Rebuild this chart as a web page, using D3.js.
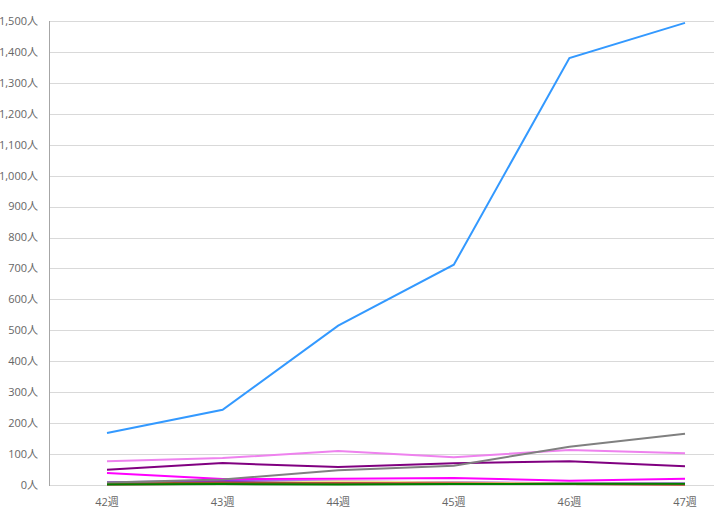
<!DOCTYPE html>
<html>
<head>
<meta charset="utf-8">
<script src="https://cdn.jsdelivr.net/npm/d3@7"></script>
<style>
  body { margin: 0; background: #fff; }
  text { font-family: "Open Sans", "Noto Sans CJK JP", sans-serif; font-size: 11px; fill: #666; }
</style>
</head>
<body>
<div id="chart"></div>
<script>
// weeks on the x axis
var weeks = ["42週", "43週", "44週", "45週", "46週", "47週"];
var yTicks = d3.range(0, 1501, 100);

// one array per line
var blueVals = [168, 243, 515, 712, 1380, 1494];
var grayVals = [8, 18, 48, 62, 124, 166];
var violetVals = [77, 87, 110, 90, 113, 103];
var purpleVals = [49, 71, 58, 70, 77, 61];
var magentaVals = [39, 19, 20, 23, 14, 20];
var blueVioletVals = [9, 13, 11, 9, 6, 5];
var khakiVals = [3, 6, 11, 8, 5, 3];
var crimsonVals = [2, 4, 6, 5, 3, 2];
var sienaVals = [4, 8, 5, 4, 3, 2];
var greenVals = [2, 3, 2, 3, 4, 4];

var series = [
  { color: "#3399ff", values: blueVals },
  { color: "#808080", values: grayVals },
  { color: "#ee82ee", values: violetVals },
  { color: "#800080", values: purpleVals },
  { color: "#ff00ff", values: magentaVals },
  { color: "#8a2be2", values: blueVioletVals },
  { color: "#f0e68c", values: khakiVals },
  { color: "#dc143c", values: crimsonVals },
  { color: "#a0522d", values: sienaVals },
  { color: "#008000", values: greenVals },
];

var svgWidth = 714;
var svgHeight = 526;

var svg = d3
  .select("#chart")
  .append("svg")
  .attr("width", svgWidth)
  .attr("height", svgHeight);

var xScale = d3.scalePoint().domain(weeks).range([107, 685]);
var yScale = d3.scaleLinear().domain([0, 1500]).range([485, 21]);

// gridlines
svg
  .append("g")
  .selectAll("line")
  .data(yTicks)
  .enter()
  .append("line")
  .attr("x1", 49)
  .attr("x2", svgWidth)
  .attr("y1", (d) => Math.round(yScale(d)) + 0.5)
  .attr("y2", (d) => Math.round(yScale(d)) + 0.5)
  .attr("stroke", "#d9d9d9")
  .attr("stroke-width", 1);

// y axis line
svg
  .append("line")
  .attr("x1", 49.5)
  .attr("x2", 49.5)
  .attr("y1", yScale(1500))
  .attr("y2", yScale(0) + 1)
  .attr("stroke", "#a6a6a6");

// y labels
svg
  .append("g")
  .selectAll("text")
  .data(yTicks)
  .enter()
  .append("text")
  .attr("x", 38)
  .attr("y", (d) => yScale(d))
  .attr("dy", "0.35em")
  .style("text-anchor", "end")
  .text((d) => d3.format(",")(d) + "人");

// x labels
svg
  .append("g")
  .selectAll("text")
  .data(weeks)
  .enter()
  .append("text")
  .attr("x", (d) => xScale(d))
  .attr("y", 506)
  .style("text-anchor", "middle")
  .text((d) => d);

var line = d3
  .line()
  .x((d, i) => xScale(weeks[i]))
  .y((d) => yScale(d));

// draw small ones first so the big ones sit on top; green last
var order = [5, 6, 7, 8, 4, 3, 2, 1, 0, 9];
svg
  .append("g")
  .selectAll("path")
  .data(order.map((i) => series[i]))
  .enter()
  .append("path")
  .attr("d", (d) => line(d.values))
  .attr("fill", "none")
  .attr("stroke", (d) => d.color)
  .attr("stroke-width", 2);
</script>
</body>
</html>
